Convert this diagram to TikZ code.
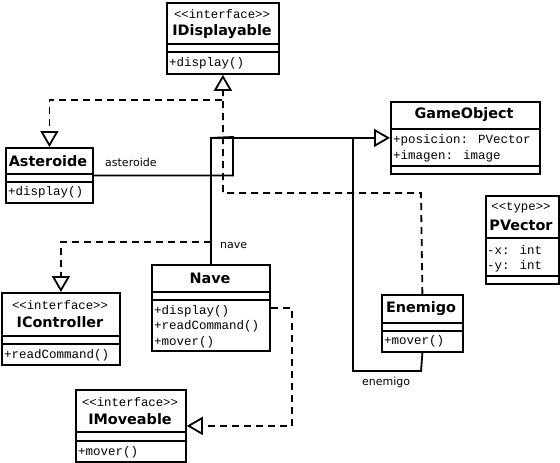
\documentclass[tikz,border=0pt]{standalone}
\usepackage{fontspec}
\setmainfont{DejaVu Sans}
\newfontfamily\codefont{Liberation Mono}
\usetikzlibrary{arrows.meta}

\tikzset{
  classbox/.style={draw,line width=1.8pt,anchor=north west,inner sep=0pt},
  clname/.style={font=\bfseries\fontsize{14.4pt}{16pt}\selectfont,inner sep=0pt},
  stereo/.style={font=\codefont\fontsize{12.3pt}{14pt}\selectfont,inner sep=0pt},
  member/.style={font=\codefont\fontsize{12.5pt}{14pt}\selectfont,anchor=west,inner sep=0pt},
  role/.style={font=\fontsize{11pt}{13pt}\selectfont,anchor=west,inner sep=0pt},
  sep/.style={line width=1.8pt},
  inherit/.style={line width=1.8pt,-{Triangle[open,length=16pt,width=18pt,fill=white]}},
  realize/.style={line width=1.8pt,dash pattern=on 7pt off 5pt,-{Triangle[open,length=16pt,width=18pt,fill=white]}},
  link/.style={line width=1.8pt},
}

\begin{document}
\begin{tikzpicture}[x=1pt,y=-1pt]
\useasboundingbox (0,0) rectangle (560,463);

% interfaces
\node[classbox,minimum width=112pt,minimum height=71pt] (disp) at (166,2) {};
\node[stereo] (dispst) at (222,14) {<{}<interface>{}>};
\node[clname] (dispnm) at (222,32) {IDisplayable};
\draw[sep] (166,44) -- (278,44);
\draw[sep] (166,52) -- (278,52);
\node[member] (dispop) at (169,63) {+display()};

\node[classbox,minimum width=118pt,minimum height=72pt] (ictl) at (1,292) {};
\node[stereo] (ictlst) at (60,305) {<{}<interface>{}>};
\node[clname] (ictlnm) at (60,322) {IController};
\draw[sep] (1,336) -- (119,336);
\draw[sep] (1,344) -- (119,344);
\node[member] (ictlop) at (4,355) {+readCommand()};

\node[classbox,minimum width=110pt,minimum height=72pt] (imov) at (75,389) {};
\node[stereo] (imovst) at (130,402) {<{}<interface>{}>};
\node[clname] (imovnm) at (130,419) {IMoveable};
\draw[sep] (75,432) -- (185,432);
\draw[sep] (75,441) -- (185,441);
\node[member] (imovop) at (78,452) {+mover()};

% classes
\node[classbox,minimum width=149pt,minimum height=72pt] (gobj) at (390,101) {};
\node[clname] (gobjnm) at (464,115) {GameObject};
\draw[sep] (390,129) -- (539,129);
\node[member] (gobjat1) at (393,140) {+posicion: PVector};
\node[member] (gobjat2) at (393,156) {+imagen: image};
\draw[sep] (390,166) -- (539,166);

\node[classbox,minimum width=73pt,minimum height=88pt] (pvec) at (485,195) {};
\node[stereo] (pvecst) at (521,208) {<{}<type>{}>};
\node[clname] (pvecnm) at (521,225) {PVector};
\draw[sep] (485,238) -- (558,238);
\node[member] (pvecat1) at (487,250) {-x: int};
\node[member] (pvecat2) at (487,266) {-y: int};
\draw[sep] (485,276) -- (558,276);

\node[classbox,minimum width=87pt,minimum height=55pt] (ast) at (5,147) {};
\node[clname] (astnm) at (48,161) {Asteroide};
\draw[sep] (5,174) -- (92,174);
\draw[sep] (5,182) -- (92,182);
\node[member] (astop) at (8,192) {+display()};

\node[classbox,minimum width=118pt,minimum height=86pt] (nave) at (151,264) {};
\node[clname] (navenm) at (210,278) {Nave};
\draw[sep] (151,292) -- (269,292);
\draw[sep] (151,300) -- (269,300);
\node[member] (naveop1) at (154,311) {+display()};
\node[member] (naveop2) at (154,326) {+readCommand()};
\node[member] (naveop3) at (154,342) {+mover()};

\node[classbox,minimum width=81pt,minimum height=57pt] (enem) at (381,294) {};
\node[clname] (enemnm) at (421,309) {Enemigo};
\draw[sep] (381,323) -- (462,323);
\draw[sep] (381,331) -- (462,331);
\node[member] (enemop) at (384,341) {+mover()};

% generalization to GameObject
\draw[link] (ast.east) -| (233,137) -- (nave.north |- gobj.west);
\draw[link] (enem.south) -- (421,371) -| (353,137);
\draw[inherit] (nave.north) |- (gobj.west);
\node[role] (astrole) at (105,162) {asteroide};
\node[role] (naverole) at (220,245) {nave};
\node[role] (enemrole) at (362,382) {enemigo};

% realizations
\draw[realize] (enem.north) -- (421,193) -| (disp.south);
\draw[realize] (222,100) -| (ast.north);
\draw[realize] (nave.north |- 0,242) -| (ictl.north);
\draw[realize] (nave.east |- 0,308) -- (292,308) |- (imov.east);
\end{tikzpicture}
\end{document}
